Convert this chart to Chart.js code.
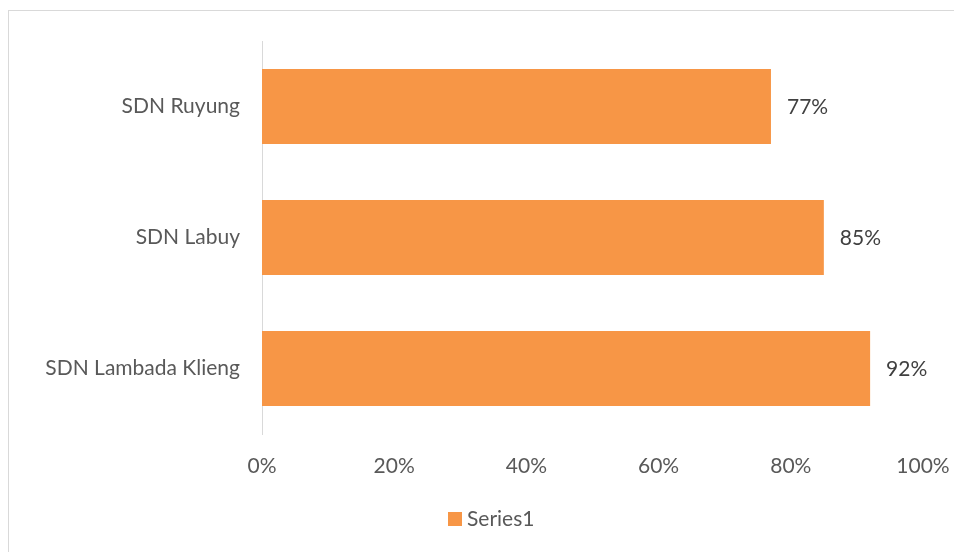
<!DOCTYPE html>
<html>
<head>
<meta charset="utf-8">
<script src="https://cdn.jsdelivr.net/npm/chart.js@4.4.1/dist/chart.umd.min.js"></script>
<style>
  html, body { margin: 0; padding: 0; background: #ffffff; }
  #wrap { position: relative; width: 954px; height: 552px; overflow: hidden; }
  #frame { position: absolute; left: 8px; top: 10px; width: 960px; height: 560px; border: 1px solid #d9d9d9; box-sizing: border-box; }
  canvas { position: absolute; left: 0; top: 0; }
</style>
</head>
<body>
<div id="wrap">
  <div id="frame"></div>
  <canvas id="c" width="954" height="552"></canvas>
</div>
<script>
const categories = ["SDN Ruyung", "SDN Labuy", "SDN Lambada Klieng"];
const series1 = [77, 85, 92];
const seriesName = "Series1";
const xTicks = [0, 20, 40, 60, 80, 100];

const FONT = "Lato, 'Open Sans', sans-serif";
const FSIZE = 21;

const valueLabels = {
  id: 'valueLabels',
  afterDatasetsDraw(chart) {
    const ctx = chart.ctx;
    const meta = chart.getDatasetMeta(0);
    ctx.save();
    ctx.font = FSIZE + "px " + FONT;
    ctx.fillStyle = "#404040";
    ctx.textAlign = "left";
    ctx.textBaseline = "middle";
    meta.data.forEach((bar, i) => {
      ctx.fillText(series1[i] + "%", bar.x + 16, bar.y + 1);
    });
    ctx.restore();
  }
};

const customLegend = {
  id: 'customLegend',
  afterDraw(chart) {
    const ctx = chart.ctx;
    const ds = chart.data.datasets[0];
    ctx.save();
    ctx.fillStyle = ds.backgroundColor;
    ctx.fillRect(448, 512, 14, 14);
    ctx.font = FSIZE + "px " + FONT;
    ctx.fillStyle = "#595959";
    ctx.textAlign = "left";
    ctx.textBaseline = "middle";
    ctx.fillText(ds.label, 467, 519);
    ctx.restore();
  }
};

new Chart(document.getElementById('c'), {
  type: 'bar',
  data: {
    labels: categories,
    datasets: [{
      label: seriesName,
      data: series1,
      backgroundColor: '#F79646',
      borderWidth: 0,
      barPercentage: 0.572,
      categoryPercentage: 1.0
    }]
  },
  options: {
    indexAxis: 'y',
    responsive: false,
    animation: false,
    devicePixelRatio: 1,
    layout: { padding: { left: 0, right: 31, top: 41, bottom: 0 } },
    scales: {
      x: {
        min: 0, max: 100,
        afterBuildTicks(scale) { scale.ticks = xTicks.map(v => ({ value: v })); },
        grid: { display: false },
        border: { display: false },
        ticks: {
          color: '#595959',
          font: { family: FONT, size: FSIZE },
          padding: 12,
          maxRotation: 0,
          callback: v => v + '%'
        },
        afterFit(scale) {
          scale.height = 118;
          scale.paddingLeft = 0;
          scale.paddingRight = 0;
        }
      },
      y: {
        grid: { display: false, drawTicks: false },
        border: { display: true, color: '#d9d9d9', width: 1 },
        ticks: {
          color: '#595959',
          font: { family: FONT, size: FSIZE },
          padding: 22
        },
        afterFit(scale) {
          scale.width = 262;
          scale.paddingTop = 0;
          scale.paddingBottom = 0;
        }
      }
    },
    plugins: {
      legend: { display: false },
      tooltip: { enabled: false }
    }
  },
  plugins: [valueLabels, customLegend]
});
</script>
</body>
</html>
